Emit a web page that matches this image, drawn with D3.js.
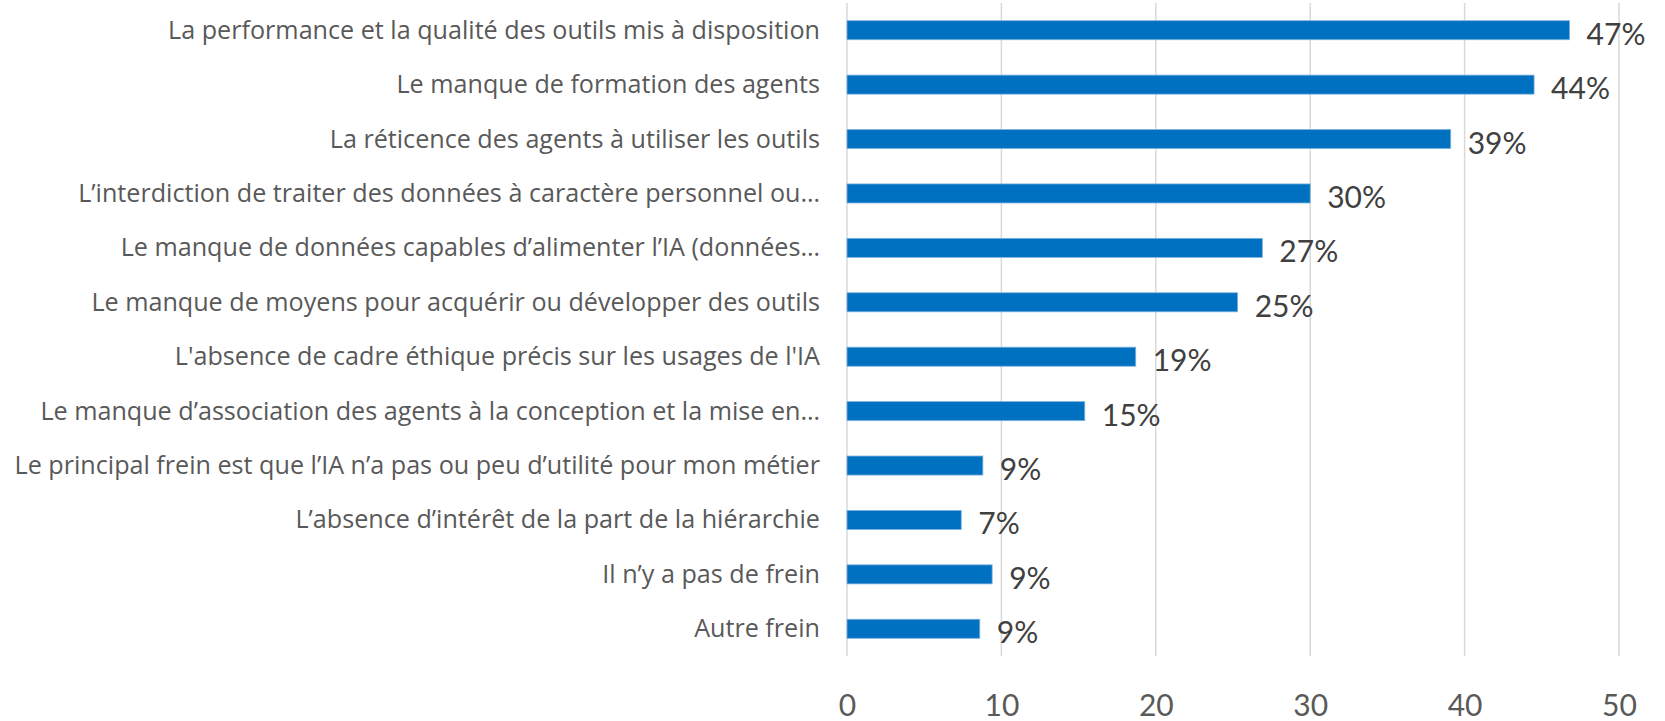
<!DOCTYPE html>
<html>
<head>
<meta charset="utf-8">
<script src="https://cdn.jsdelivr.net/npm/d3@7"></script>
<style>
  html, body { margin: 0; padding: 0; background: #ffffff; }
  svg { display: block; }
</style>
</head>
<body>
<svg id="chart" width="1665" height="721"></svg>
<script>
const categories = [
  "La performance et la qualité des outils mis à disposition",
  "Le manque de formation des agents",
  "La réticence des agents à utiliser les outils",
  "L’interdiction de traiter des données à caractère personnel ou…",
  "Le manque de données capables d’alimenter l’IA (données…",
  "Le manque de moyens pour acquérir ou développer des outils",
  "L'absence de cadre éthique précis sur les usages de l'IA",
  "Le manque d’association des agents à la conception et la mise en…",
  "Le principal frein est que l’IA n’a pas ou peu d’utilité pour mon métier",
  "L’absence d’intérêt de la part de la hiérarchie",
  "Il n’y a pas de frein",
  "Autre frein"
];
const values = [46.8, 44.5, 39.1, 30.0, 26.9, 25.3, 18.7, 15.4, 8.8, 7.4, 9.4, 8.6];
const valueLabels = ["47%", "44%", "39%", "30%", "27%", "25%", "19%", "15%", "9%", "7%", "9%", "9%"];
const xTicks = [0, 10, 20, 30, 40, 50];

const svg = d3.select("#chart");
const plotLeft = 847, plotRight = 1619, plotTop = 3, plotBottom = 656;

const x = d3.scaleLinear().domain([0, 50]).range([plotLeft, plotRight]);
const y = d3.scaleBand().domain(categories).range([plotTop, plotBottom]).paddingInner(0.65).paddingOuter(0.325);

// gridlines
svg.append("g").selectAll("line").data(xTicks).join("line")
  .attr("x1", d => x(d)).attr("x2", d => x(d))
  .attr("y1", plotTop).attr("y2", plotBottom)
  .attr("stroke", "#d9d9d9").attr("stroke-width", 1.5);

// bars
svg.append("g").selectAll("rect").data(values).join("rect")
  .attr("x", x(0))
  .attr("y", (d, i) => y(categories[i]))
  .attr("width", d => x(d) - x(0))
  .attr("height", y.bandwidth())
  .attr("fill", "#0070c0")
  .attr("stroke", "#7fb2e0")
  .attr("stroke-width", 0.8);

// category labels
const catLabels = svg.append("g").selectAll("text").data(categories).join("text")
  .attr("x", plotLeft - 27)
  .attr("y", d => y(d) + y.bandwidth() / 2 + 8.5)
  .attr("text-anchor", "end")
  .attr("font-family", "'Open Sans', Lato, sans-serif")
  .attr("font-size", 24)
  .attr("fill", "#595959")
  .text(d => d);
// fit the widest label to the reference width
let maxW = 0;
catLabels.each(function() { maxW = Math.max(maxW, this.getComputedTextLength()); });
if (maxW > 0) catLabels.attr("font-size", 24 * 806 / maxW);

// value labels
svg.append("g").selectAll("text").data(values).join("text")
  .attr("x", d => x(d) + 17)
  .attr("y", (d, i) => y(categories[i]) + y.bandwidth() / 2 + 14.5)
  .attr("font-family", "Lato, 'Open Sans', sans-serif")
  .attr("font-size", 30)
  .attr("fill", "#404040")
  .text((d, i) => valueLabels[i]);

// x axis tick labels
const axis = d3.axisBottom(x).tickValues(xTicks).tickSize(0).tickPadding(0).tickFormat(d3.format("d"));
const gAxis = svg.append("g").attr("transform", `translate(0, ${plotBottom})`).call(axis);
gAxis.select(".domain").remove();
gAxis.selectAll("text")
  .attr("y", 0).attr("dy", null)
  .attr("transform", "translate(0, 60)")
  .attr("font-family", "Lato, 'Open Sans', sans-serif")
  .attr("font-size", 30)
  .attr("fill", "#595959");
</script>
</body>
</html>
